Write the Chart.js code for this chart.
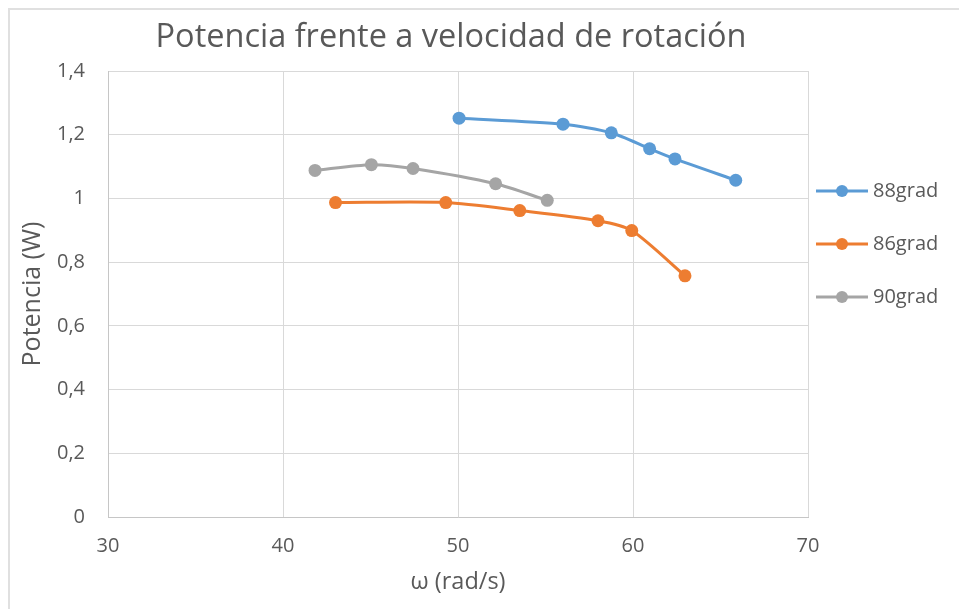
<!DOCTYPE html>
<html>
<head>
<meta charset="utf-8">
<title>Potencia frente a velocidad de rotación</title>
<script src="https://cdn.jsdelivr.net/npm/chart.js@4.4.0/dist/chart.umd.min.js"></script>
<style>
    html, body { margin: 0; padding: 0; background: #ffffff; }
    #wrap { width: 959px; height: 609px; position: relative; }
</style>
</head>
<body>
<div id="wrap"><canvas id="power-chart"></canvas></div>
<script>
// Series labels and colours (Excel default theme)
const seriesLabels = ['88grad', '86grad', '90grad'];
const seriesColors = ['#5B9BD5', '#ED7D31', '#A5A5A5'];

// Angular speed (rad/s) for each series
const omega88 = [50.06, 56.0, 58.76, 60.95, 62.4, 65.87];
const omega86 = [43.0, 49.3, 53.53, 58.0, 59.93, 62.97];
const omega90 = [41.83, 45.05, 47.43, 52.15, 55.1];

// Power (W) for each series
const power88 = [1.252, 1.233, 1.206, 1.156, 1.124, 1.057];
const power86 = [0.987, 0.987, 0.962, 0.930, 0.899, 0.757];
const power90 = [1.088, 1.106, 1.094, 1.046, 0.994];

// Axis ranges
const xMin = 30, xMax = 70, xStep = 10;
const yMin = 0, yMax = 1.4, yStep = 0.2;

const chartTitle = 'Potencia frente a velocidad de rotación';
const xTitle = 'ω (rad/s)';
const yTitle = 'Potencia (W)';

const textColor = '#595959';
const fontFamily = '"Open Sans", "Noto Sans", sans-serif';

// Pair x and y arrays into points
function toPoints(xs, ys) {
    return xs.map((x, i) => ({ x: x, y: ys[i] }));
}

const seriesPoints = [
    toPoints(omega88, power88),
    toPoints(omega86, power86),
    toPoints(omega90, power90)
];

// Spanish decimal comma on the y axis
function commaLabel(value) {
    return String(Number(value.toFixed(1))).replace('.', ',');
}

// Chart frame and title drawn behind the plot
const framePlugin = {
    id: 'frame',
    beforeDraw(chart) {
        const ctx = chart.ctx;
        ctx.save();
        ctx.fillStyle = '#ffffff';
        ctx.fillRect(0, 0, chart.width, chart.height);
        ctx.strokeStyle = '#e0e0e0';
        ctx.lineWidth = 2;
        ctx.beginPath();
        ctx.moveTo(9, chart.height);
        ctx.lineTo(9, 9);
        ctx.lineTo(chart.width, 9);
        ctx.stroke();

        ctx.fillStyle = textColor;
        ctx.font = '32.5px ' + fontFamily;
        ctx.textAlign = 'center';
        ctx.textBaseline = 'alphabetic';
        ctx.fillText(chartTitle, 451, 47);
        ctx.restore();
    }
};

// Legend on the right, line with marker like Excel
const legendPlugin = {
    id: 'sideLegend',
    afterDraw(chart) {
        const ctx = chart.ctx;
        const top = 191, gap = 53;
        ctx.save();
        chart.data.datasets.forEach((ds, i) => {
            const y = top + i * gap;
            ctx.strokeStyle = ds.borderColor;
            ctx.lineWidth = 3;
            ctx.beginPath();
            ctx.moveTo(816, y);
            ctx.lineTo(868, y);
            ctx.stroke();
            ctx.fillStyle = ds.backgroundColor;
            ctx.beginPath();
            ctx.arc(842, y, 6, 0, Math.PI * 2);
            ctx.fill();
            ctx.fillStyle = textColor;
            ctx.font = '20px ' + fontFamily;
            ctx.textAlign = 'left';
            ctx.textBaseline = 'middle';
            ctx.fillText(ds.label, 873, y);
        });
        ctx.restore();
    }
};

function initChart() {
    const ctx = document.getElementById('power-chart').getContext('2d');
    new Chart(ctx, {
        type: 'scatter',
        data: {
            datasets: seriesLabels.map((label, i) => ({
                label: label,
                data: seriesPoints[i],
                showLine: true,
                borderColor: seriesColors[i],
                backgroundColor: seriesColors[i],
                borderWidth: 3,
                pointRadius: 6.5,
                pointBorderWidth: 0,
                pointHoverRadius: 6.5,
                tension: 0.25
            }))
        },
        options: {
            responsive: true,
            maintainAspectRatio: false,
            animation: false,
            layout: { padding: { top: 71, right: 151, bottom: 0, left: 0 } },
            plugins: {
                legend: { display: false },
                title: { display: false },
                tooltip: { enabled: false }
            },
            scales: {
                x: {
                    type: 'linear',
                    min: xMin,
                    max: xMax,
                    afterFit(scale) { scale.height = 92; },
                    grid: { color: '#d9d9d9', lineWidth: 1, drawTicks: false },
                    border: { color: '#c6c6c6', width: 1 },
                    ticks: {
                        stepSize: xStep,
                        padding: 17,
                        color: textColor,
                        font: { family: fontFamily, size: 20 }
                    },
                    title: {
                        display: true,
                        text: xTitle,
                        color: textColor,
                        font: { family: fontFamily, size: 23.5 },
                        padding: { top: 0, bottom: 13 }
                    }
                },
                y: {
                    min: yMin,
                    max: yMax,
                    afterFit(scale) { scale.width = 108; },
                    grid: { color: '#d9d9d9', lineWidth: 1, drawTicks: false },
                    border: { color: '#c6c6c6', width: 1 },
                    ticks: {
                        stepSize: yStep,
                        padding: 23,
                        color: textColor,
                        font: { family: fontFamily, size: 20 },
                        callback: commaLabel
                    },
                    title: {
                        display: true,
                        text: yTitle,
                        color: textColor,
                        font: { family: fontFamily, size: 25 },
                        padding: { top: 18, bottom: 0 }
                    }
                }
            }
        },
        plugins: [framePlugin, legendPlugin]
    });
}

document.addEventListener('DOMContentLoaded', initChart);
</script>
</body>
</html>
